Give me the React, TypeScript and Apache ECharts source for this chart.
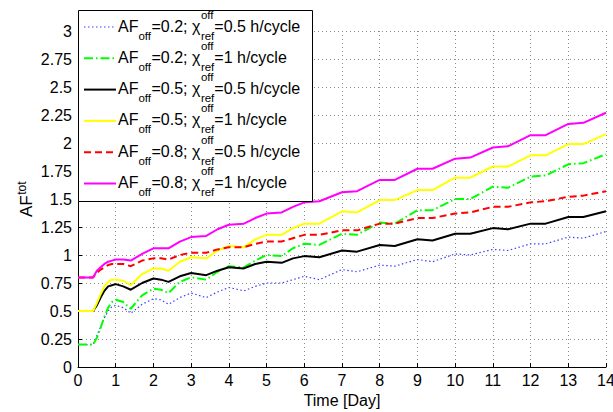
import React, { useEffect, useRef } from "react";
import * as echarts from "echarts";

// ---- data ----
const timeDays = [
  0, 0.4, 0.5, 0.6, 0.7, 0.8, 0.9, 1.0, 1.2, 1.4, 1.7, 2.0, 2.2, 2.4, 2.7, 3.0, 3.4, 3.7, 4.0, 4.4,
  4.7, 5.0, 5.4, 5.7, 6.0, 6.4, 7.0, 7.4, 8.0, 8.4, 9.0, 9.4, 10.0, 10.4, 11.0, 11.4, 12.0, 12.4,
  13.0, 13.4, 14.0,
];
const af02_chi05 = [
  0.2, 0.2, 0.28, 0.36, 0.44, 0.5, 0.54, 0.55, 0.53, 0.48, 0.56, 0.61, 0.6, 0.56, 0.62, 0.66, 0.62,
  0.67, 0.71, 0.68, 0.72, 0.75, 0.75, 0.78, 0.81, 0.78, 0.87, 0.85, 0.91, 0.9, 0.96, 0.94, 1.01, 1.0,
  1.05, 1.04, 1.1, 1.1, 1.16, 1.15, 1.21,
];
const af02_chi1 = [
  0.2, 0.2, 0.26, 0.35, 0.45, 0.53, 0.58, 0.6, 0.58, 0.52, 0.64, 0.7, 0.69, 0.66, 0.76, 0.8, 0.78,
  0.85, 0.9, 0.89, 0.95, 1.0, 0.99, 1.06, 1.1, 1.09, 1.19, 1.18, 1.29, 1.28, 1.4, 1.4, 1.5, 1.5,
  1.61, 1.6, 1.7, 1.71, 1.81, 1.82, 1.9,
];
const af05_chi05 = [
  0.5, 0.5, 0.55, 0.62, 0.68, 0.72, 0.73, 0.74, 0.72, 0.69, 0.75, 0.79, 0.78, 0.76, 0.81, 0.84, 0.82,
  0.86, 0.89, 0.88, 0.92, 0.94, 0.93, 0.97, 0.99, 0.98, 1.04, 1.03, 1.09, 1.08, 1.14, 1.13, 1.19,
  1.19, 1.24, 1.23, 1.28, 1.28, 1.34, 1.34, 1.39,
];
const af05_chi1 = [
  0.5, 0.5, 0.57, 0.65, 0.72, 0.76, 0.78, 0.78, 0.77, 0.73, 0.83, 0.88, 0.88, 0.86, 0.94, 0.98, 0.97,
  1.04, 1.08, 1.07, 1.14, 1.18, 1.18, 1.24, 1.28, 1.28, 1.39, 1.38, 1.49, 1.49, 1.58, 1.58, 1.69,
  1.69, 1.79, 1.79, 1.89, 1.89, 1.99, 1.99, 2.08,
];
const af08_chi05 = [
  0.8, 0.8, 0.84, 0.87, 0.89, 0.91, 0.92, 0.92, 0.92, 0.9, 0.95, 0.97, 0.97, 0.96, 1.0, 1.02, 1.02,
  1.05, 1.07, 1.07, 1.1, 1.12, 1.12, 1.15, 1.18, 1.18, 1.22, 1.22, 1.28, 1.28, 1.33, 1.33, 1.37,
  1.38, 1.43, 1.43, 1.47, 1.48, 1.52, 1.53, 1.57,
];
const af08_chi1 = [
  0.8, 0.8, 0.86, 0.89, 0.92, 0.94, 0.95, 0.96, 0.96, 0.95, 1.01, 1.06, 1.06, 1.06, 1.12, 1.16, 1.17,
  1.23, 1.27, 1.28, 1.33, 1.37, 1.38, 1.43, 1.47, 1.48, 1.56, 1.57, 1.67, 1.67, 1.77, 1.77, 1.86,
  1.87, 1.96, 1.97, 2.07, 2.07, 2.17, 2.18, 2.27,
];
const afOffLabels = ["0.2", "0.2", "0.5", "0.5", "0.8", "0.8"];
const chiRefLabels = ["0.5", "1", "0.5", "1", "0.5", "1"];
const seriesValues = [af02_chi05, af02_chi1, af05_chi05, af05_chi1, af08_chi05, af08_chi1];

// ---- styles ----
const FONT = "'Liberation Sans', Arial, Helvetica, sans-serif";
const seriesStyles = [
  { color: "#3c3cff", width: 1.2, dash: [1.5, 2.5] as number[] | "solid" },
  { color: "#00ff00", width: 2, dash: [9, 3, 1.5, 3] as number[] | "solid" },
  { color: "#000000", width: 2, dash: "solid" as number[] | "solid" },
  { color: "#ffff00", width: 2, dash: "solid" as number[] | "solid" },
  { color: "#ff0000", width: 2, dash: [7, 4] as number[] | "solid" },
  { color: "#ff00ff", width: 2, dash: "solid" as number[] | "solid" },
];

let measureCtx: CanvasRenderingContext2D | null = null;
function textWidth(text: string, size: number): number {
  if (!measureCtx) {
    const c = document.createElement("canvas");
    measureCtx = c.getContext("2d");
  }
  if (!measureCtx) return text.length * size * 0.55;
  measureCtx.font = `${size}px ${FONT}`;
  return measureCtx.measureText(text).width;
}

function txt(x: number, y: number, text: string, size: number, z = 101) {
  return {
    type: "text",
    x,
    y,
    z,
    style: {
      text,
      fontSize: size,
      fontFamily: FONT,
      fill: "#000",
      align: "left",
      verticalAlign: "middle",
    },
  };
}

function buildLegend(): any[] {
  const els: any[] = [];
  const boxX = 78,
    boxY = 10,
    boxW = 234,
    boxH = 191;
  els.push({
    type: "rect",
    z: 100,
    shape: { x: boxX + 0.5, y: boxY + 0.5, width: boxW, height: boxH },
    style: { fill: "#fff", stroke: "#000", lineWidth: 1 },
  });
  const main = 16,
    small = 11.5;
  for (let i = 0; i < 6; i++) {
    const c = 27 + i * 31.3;
    const st = seriesStyles[i];
    els.push({
      type: "line",
      z: 101,
      shape: { x1: 84, y1: c, x2: 116, y2: c },
      style: {
        stroke: st.color,
        lineWidth: st.width,
        lineDash: st.dash === "solid" ? null : st.dash,
      },
    });
    let x = 118;
    const mainY = c - 1;
    const subY = c + 8.5;
    const supY = c - 12.5;
    els.push(txt(x, mainY, "AF", main));
    x += textWidth("AF", main);
    els.push(txt(x, subY, "off", small));
    x += textWidth("off", small) + 0.5;
    const part = "=" + afOffLabels[i] + "; \u03c7";
    els.push(txt(x, mainY, part, main));
    x += textWidth(part, main) + 0.5;
    els.push(txt(x, supY, "off", small));
    els.push(txt(x, subY, "ref", small));
    x += Math.max(textWidth("off", small), textWidth("ref", small));
    els.push(txt(x, mainY, "=" + chiRefLabels[i] + " h/cycle", main));
  }
  return els;
}

function buildYName(): any {
  const big = 17,
    small = 12;
  const w = textWidth("AF", big);
  return {
    type: "group",
    x: 32,
    y: 217,
    rotation: Math.PI / 2,
    children: [
      {
        type: "text",
        x: 0,
        y: -0.35 * big,
        style: { text: "AF", fontSize: big, fontFamily: FONT, fill: "#000", align: "left", verticalAlign: "middle" },
      },
      {
        type: "text",
        x: w + 0.5,
        y: -6 - 0.35 * small,
        style: { text: "tot", fontSize: small, fontFamily: FONT, fill: "#000", align: "left", verticalAlign: "middle" },
      },
    ],
  };
}

export default function App() {
  const ref = useRef<HTMLDivElement>(null);
  useEffect(() => {
    if (!ref.current) return;
    const chart = echarts.init(ref.current, null, { renderer: "svg" });
    const axisCommon = {
      type: "value" as const,
      axisLine: { show: true, onZero: false, lineStyle: { color: "#000", width: 1 } },
      axisTick: { show: true, inside: true, length: 4, lineStyle: { color: "#000" } },
      splitLine: { show: true, lineStyle: { color: "#8c8c8c", width: 1, type: [1, 3] } },
      axisLabel: { color: "#000", fontSize: 16, fontFamily: FONT },
    };
    chart.setOption({
      animation: false,
      backgroundColor: "#fff",
      grid: { left: 78, right: 7, top: 31, bottom: 45, containLabel: false, outerBoundsMode: "none" },
      xAxis: {
        ...axisCommon,
        min: 0,
        max: 14,
        interval: 1,
        axisLabel: { ...axisCommon.axisLabel, margin: 5 },
        name: "Time [Day]",
        nameLocation: "middle",
        nameGap: 19,
        nameTextStyle: { color: "#000", fontSize: 16, fontFamily: FONT },
      },
      yAxis: {
        ...axisCommon,
        min: 0,
        max: 3,
        interval: 0.25,
        axisLabel: {
          ...axisCommon.axisLabel,
          margin: 6,
          formatter: (v: number) => String(Math.round(v * 100) / 100),
        },
      },
      series: seriesValues.map((vals, i) => ({
        type: "line",
        name: "AF_off=" + afOffLabels[i] + "; chi_ref=" + chiRefLabels[i],
        showSymbol: false,
        symbol: "none",
        data: timeDays.map((t, j) => [t, vals[j]]),
        lineStyle: {
          color: seriesStyles[i].color,
          width: seriesStyles[i].width,
          type: seriesStyles[i].dash,
        },
        z: 2 + i,
      })),
      graphic: [...buildLegend(), buildYName()],
    });
    return () => chart.dispose();
  }, []);
  return (
    <div
      ref={ref}
      style={{ position: "fixed", left: 0, top: 0, width: 613, height: 412, background: "#fff" }}
    />
  );
}
